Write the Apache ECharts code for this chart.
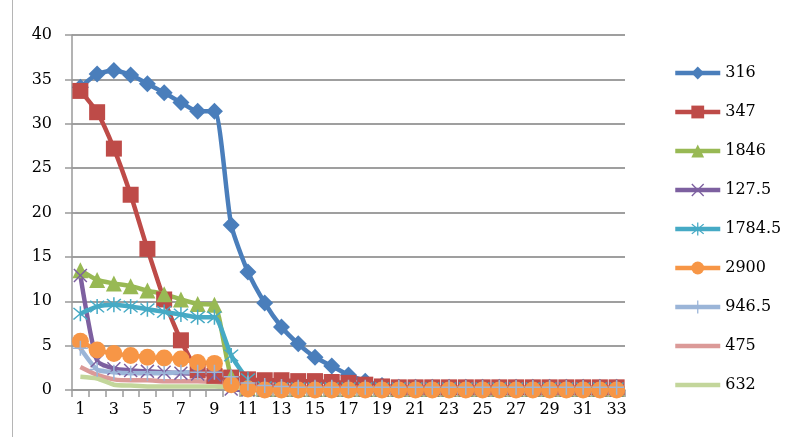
<!DOCTYPE html>
<html>
<head>
<meta charset="utf-8">
<script src="https://cdn.jsdelivr.net/npm/echarts@6/dist/echarts.min.js"></script>
<style>
  html, body { margin: 0; padding: 0; background: #fff; }
  #chart { width: 797px; height: 437px; }
</style>
</head>
<body>
<div id="chart"></div>
<script>
// x categories (sample index 1..33)
const categories = Array.from({ length: 33 }, (_, i) => String(i + 1));

// series names, shown in the legend
const seriesNames = ['316', '347', '1846', '127.5', '1784.5', '2900', '946.5', '475', '632'];

// values per series, one per category
const s316 = [34.1, 35.6, 36.0, 35.5, 34.5, 33.5, 32.4, 31.4, 31.4, 18.6, 13.3, 9.8, 7.1, 5.2, 3.7, 2.7, 1.7, 1.0, 0.5,
  0.3, 0.3, 0.3, 0.3, 0.3, 0.3, 0.3, 0.3, 0.3, 0.3, 0.3, 0.3, 0.3, 0.3];
const s347 = [33.7, 31.3, 27.2, 22.0, 15.9, 10.2, 5.6, 2.2, 1.6, 1.4, 1.2, 1.1, 1.1, 1.0, 1.0, 0.9, 0.8, 0.6, 0.4,
  0.3, 0.3, 0.3, 0.3, 0.3, 0.3, 0.3, 0.3, 0.3, 0.3, 0.3, 0.3, 0.3, 0.3];
const s1846 = [13.5, 12.4, 12.0, 11.7, 11.2, 10.8, 10.2, 9.7, 9.6, 1.5, 0.2, 0.1, 0.1, 0.1, 0.1, 0.1, 0.1, 0.1, 0.1,
  0.1, 0.1, 0.1, 0.1, 0.1, 0.1, 0.1, 0.1, 0.1, 0.1, 0.1, 0.1, 0.1, 0.1];
const s127_5 = [12.9, 3.3, 2.4, 2.2, 2.1, 2.0, 1.9, 1.8, 1.7, 0.1, 0.0, 0.0, 0.0, 0.0, 0.0, 0.0, 0.0, 0.0, 0.0,
  0.0, 0.0, 0.0, 0.0, 0.0, 0.0, 0.0, 0.0, 0.0, 0.0, 0.0, 0.0, 0.0, 0.0];
const s1784_5 = [8.6, 9.4, 9.6, 9.4, 9.1, 8.8, 8.5, 8.2, 8.2, 3.9, 1.2, 0.3, 0.2, 0.2, 0.2, 0.2, 0.2, 0.2, 0.2,
  0.2, 0.2, 0.2, 0.2, 0.2, 0.2, 0.2, 0.2, 0.2, 0.2, 0.2, 0.2, 0.2, 0.2];
const s2900 = [5.5, 4.5, 4.1, 3.9, 3.7, 3.6, 3.5, 3.1, 3.0, 0.6, 0.1, 0.0, 0.0, 0.0, 0.0, 0.0, 0.0, 0.0, 0.0,
  0.0, 0.0, 0.0, 0.0, 0.0, 0.0, 0.0, 0.0, 0.0, 0.0, 0.0, 0.0, 0.0, 0.0];
const s946_5 = [4.7, 2.3, 2.0, 1.9, 1.9, 1.9, 2.0, 2.0, 2.0, 1.5, 0.8, 0.5, 0.4, 0.3, 0.3, 0.3, 0.3, 0.3, 0.3,
  0.3, 0.3, 0.3, 0.3, 0.3, 0.3, 0.3, 0.3, 0.3, 0.3, 0.3, 0.3, 0.3, 0.3];
const s475 = [2.6, 1.7, 1.2, 1.1, 1.1, 1.0, 1.0, 1.0, 0.9, 0.7, 0.5, 0.4, 0.3, 0.3, 0.3, 0.3, 0.3, 0.3, 0.3,
  0.3, 0.3, 0.3, 0.3, 0.3, 0.3, 0.3, 0.3, 0.3, 0.3, 0.3, 0.3, 0.3, 0.3];
const s632 = [1.5, 1.3, 0.6, 0.5, 0.4, 0.4, 0.4, 0.4, 0.4, 0.3, 0.2, 0.1, 0.1, 0.1, 0.1, 0.1, 0.1, 0.1, 0.1,
  0.1, 0.1, 0.1, 0.1, 0.1, 0.1, 0.1, 0.1, 0.1, 0.1, 0.1, 0.1, 0.1, 0.1];

const seriesValues = [s316, s347, s1846, s127_5, s1784_5, s2900, s946_5, s475, s632];

// y-axis range and step
const yMin = 0, yMax = 40, yStep = 5;

// ---- styling ----
const colors = ['#4A7EBB', '#BE4B48', '#98B954', '#7D60A0', '#46AAC5', '#F79646', '#9BB5D8', '#DB9A98', '#C3D69B'];

// cross, asterisk and plus marks drawn as filled outlines
const crossPath = 'path://M0,1.5 L1.5,0 L10,8.5 L18.5,0 L20,1.5 L11.5,10 L20,18.5 L18.5,20 L10,11.5 L1.5,20 L0,18.5 L8.5,10 Z';
const starPath = 'path://M0,1.5 L1.5,0 L10,8.5 L18.5,0 L20,1.5 L11.5,10 L20,18.5 L18.5,20 L10,11.5 L1.5,20 L0,18.5 L8.5,10 Z ' +
  'M9,-2 L11,-2 L11,22 L9,22 Z';
const plusPath = 'path://M9,0 L11,0 L11,9 L20,9 L20,11 L11,11 L11,20 L9,20 L9,11 L0,11 L0,9 L9,9 Z';

// the last two series are drawn without marks
const symbols = ['diamond', 'rect', 'triangle', crossPath, starPath, 'circle', plusPath, 'circle', 'circle'];
const symbolSizes = [17, 16, 16, 14, 15, 17, 15, 0, 0];
const hasMarks = [true, true, true, true, true, true, true, false, false];

const serifFont = 'DejaVu Serif';

const chart = echarts.init(document.getElementById('chart'), null, { renderer: 'canvas' });

const series = seriesNames.map((name, i) => ({
  name,
  type: 'line',
  data: seriesValues[i],
  smooth: 0.2,
  symbol: symbols[i],
  symbolSize: symbolSizes[i],
  showSymbol: hasMarks[i],
  showAllSymbol: true,
  lineStyle: { width: 4.5, color: colors[i] },
  itemStyle: { color: colors[i] },
  emphasis: { disabled: true },
  animation: false
}));

const legendData = seriesNames.map((name, i) =>
  hasMarks[i] ? { name } : { name, itemStyle: { opacity: 0 } }
);

chart.setOption({
  animation: false,
  color: colors,
  grid: { left: 72, right: 172, top: 35, bottom: 47, containLabel: false },
  legend: {
    orient: 'vertical',
    left: 668,
    top: 60,
    itemWidth: 45,
    itemHeight: 16,
    itemGap: 23,
    lineStyle: { width: 4.5 },
    textStyle: { fontFamily: serifFont, fontSize: 16, color: '#000', padding: [0, 0, 0, 0] },
    data: legendData
  },
  xAxis: {
    type: 'category',
    data: categories,
    boundaryGap: true,
    axisLine: { show: true, lineStyle: { color: '#9a9a9a', width: 1.5 } },
    axisTick: { show: true, interval: 0, length: 7, lineStyle: { color: '#9a9a9a', width: 1.5 } },
    axisLabel: { interval: 1, margin: 12, fontFamily: serifFont, fontSize: 16, color: '#000' },
    splitLine: { show: false }
  },
  yAxis: {
    type: 'value',
    min: yMin,
    max: yMax,
    interval: yStep,
    axisLine: { show: true, lineStyle: { color: '#9a9a9a', width: 1.5 } },
    axisTick: { show: true, length: 7, lineStyle: { color: '#9a9a9a', width: 1.5 } },
    axisLabel: { margin: 20, fontFamily: serifFont, fontSize: 16, color: '#000' },
    splitLine: { show: true, lineStyle: { color: '#9f9f9f', width: 2 } }
  },
  graphic: [{
    type: 'line',
    shape: { x1: 12.5, y1: 0, x2: 12.5, y2: 437 },
    style: { stroke: '#b5b5b5', lineWidth: 1 },
    silent: true
  }],
  series
});
</script>
</body>
</html>
